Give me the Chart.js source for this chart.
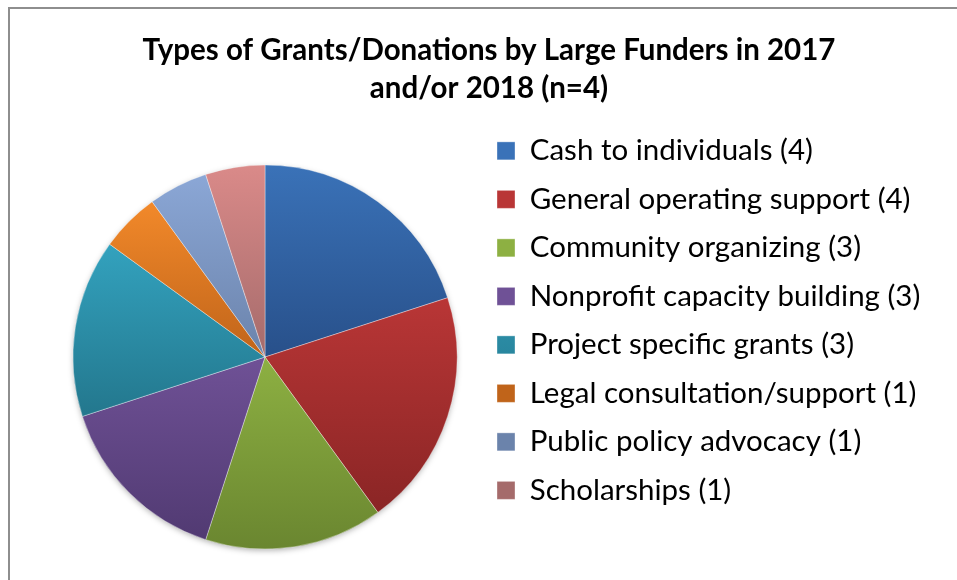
<!DOCTYPE html>
<html>
<head>
<meta charset="utf-8">
<script src="https://cdn.jsdelivr.net/npm/chart.js@4"></script>
<style>
    html, body { margin: 0; padding: 0; background: #fff; overflow: hidden; }
    #frame {
        position: absolute; left: 8px; top: 7px; width: 1000px; height: 700px;
        border-left: 2px solid #8e8e8e; border-top: 2px solid #8e8e8e;
    }
    #wrap { position: absolute; left: 0; top: 0; width: 957px; height: 620px; }
</style>
</head>
<body>
<div id="frame"></div>
<div id="wrap"><canvas id="grantsChart" width="957" height="620"></canvas></div>
<script>
// Grant types and how many large funders gave each one
const categories = [
    "Cash to individuals",
    "General operating support",
    "Community organizing",
    "Nonprofit capacity building",
    "Project specific grants",
    "Legal consultation/support",
    "Public policy advocacy",
    "Scholarships"
];
const counts = [4, 4, 3, 3, 3, 1, 1, 1];
const topColors = ["#3a72b8", "#b93636", "#8db042", "#6f5196", "#33a2be", "#f2892a", "#8ba7d6", "#da8a89"];
const bottomColors = ["#28508a", "#8a2525", "#6a8630", "#513a72", "#23778d", "#c0641a", "#6b83ab", "#a56b6b"];

const PIE_RADIUS = 192;
const LEGEND_LEFT = 478;
const total = counts.reduce((a, b) => a + b, 0);

// vertical gradient fitted to each slice, lighter at the top
function sliceGradient(ctx) {
    const i = ctx.dataIndex;
    const chart = ctx.chart;
    const area = chart.chartArea;
    if (!area || i === undefined) return topColors[i] || topColors[0];
    const cy = (area.top + area.bottom) / 2;
    const before = counts.slice(0, i).reduce((a, b) => a + b, 0);
    const a0 = -Math.PI / 2 + 2 * Math.PI * before / total;
    const a1 = a0 + 2 * Math.PI * counts[i] / total;
    const ys = [cy, cy + PIE_RADIUS * Math.sin(a0), cy + PIE_RADIUS * Math.sin(a1)];
    if (a0 <= Math.PI / 2 && a1 >= Math.PI / 2) ys.push(cy + PIE_RADIUS);
    if (a0 <= -Math.PI / 2 + 1e-6 || a1 >= 1.5 * Math.PI) ys.push(cy - PIE_RADIUS);
    const g = chart.ctx.createLinearGradient(0, Math.min(...ys), 0, Math.max(...ys));
    g.addColorStop(0, topColors[i]);
    g.addColorStop(1, bottomColors[i]);
    return g;
}

// legend gets squeezed to half the width by the layout, so widen it to the left
const legendPlacement = {
    id: "legendPlacement",
    afterLayout(chart) {
        const lg = chart.legend;
        lg.left = LEGEND_LEFT;
        lg.width = lg.right - lg.left;
    }
};

// soft drop shadow under the whole pie
const pieShadow = {
    id: "pieShadow",
    beforeDatasetsDraw(chart) {
        const arc = chart.getDatasetMeta(0).data[0];
        if (!arc) return;
        const c = chart.ctx;
        c.save();
        c.shadowColor = "rgba(0,0,0,0.35)";
        c.shadowBlur = 6;
        c.shadowOffsetY = 2;
        c.fillStyle = "#fff";
        c.beginPath();
        c.arc(arc.x, arc.y, arc.outerRadius - 1, 0, 2 * Math.PI);
        c.fill();
        c.restore();
    }
};

const labels = categories.map((c, i) => c + " (" + counts[i] + ")");

new Chart(document.getElementById("grantsChart"), {
    type: "pie",
    data: {
        labels: labels,
        datasets: [{
            data: counts,
            backgroundColor: sliceGradient,
            borderColor: "rgba(255,255,255,0.35)",
            borderWidth: 1
        }]
    },
    options: {
        responsive: false,
        animation: false,
        radius: PIE_RADIUS,
        layout: { padding: { left: 41, right: 20, top: 0, bottom: 23 } },
        plugins: {
            title: {
                display: true,
                text: ["Types of Grants/Donations by Large Funders in 2017", "and/or 2018 (n=4)"],
                color: "#000",
                font: { family: "Lato", size: 29.5, weight: "bold", lineHeight: 1.29 },
                padding: { top: 31, bottom: 10 }
            },
            legend: {
                position: "right",
                align: "start",
                fullSize: false,
                labels: {
                    color: "#000",
                    boxWidth: 18,
                    boxHeight: 18,
                    padding: 19,
                    font: { family: "Lato", size: 29.5 }
                }
            },
            tooltip: { enabled: false }
        }
    },
    plugins: [legendPlacement, pieShadow]
});
</script>
</body>
</html>
